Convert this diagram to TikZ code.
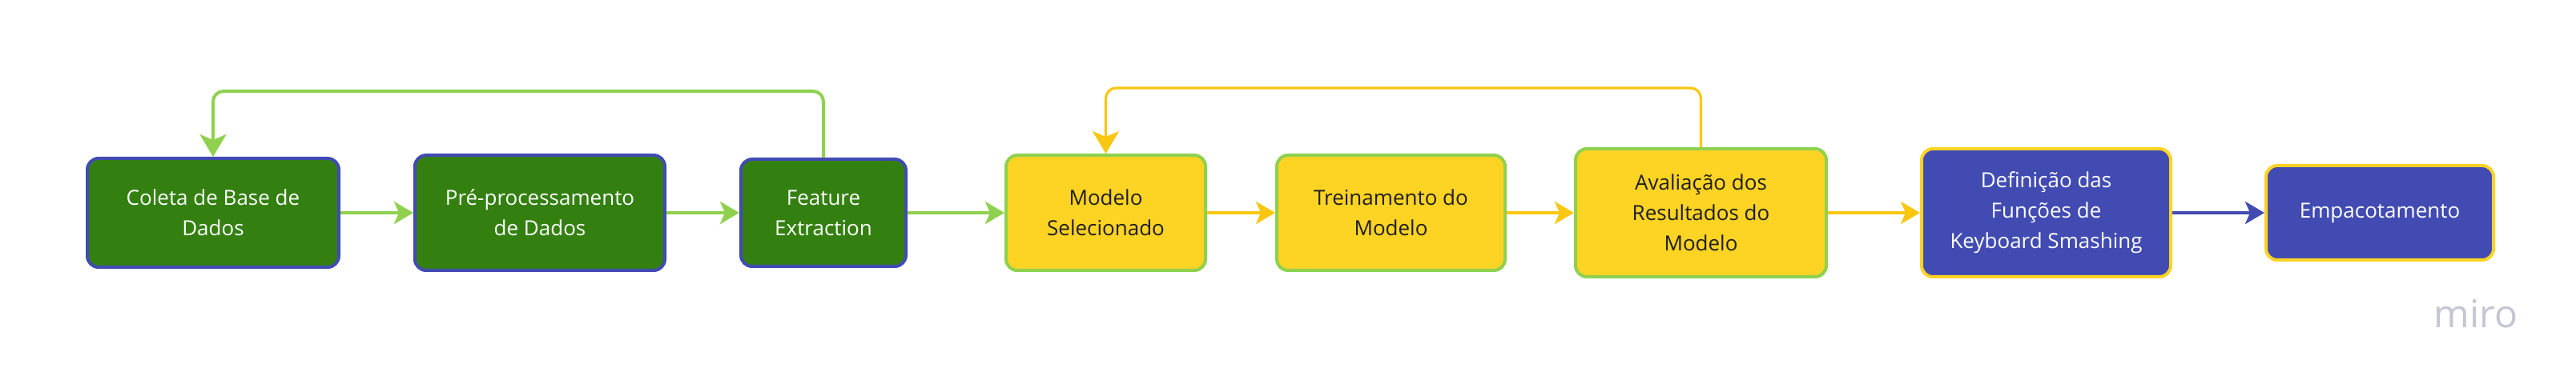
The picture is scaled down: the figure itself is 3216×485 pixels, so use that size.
\documentclass[tikz,border=0pt]{standalone}
\usepackage{fontspec}
\setmainfont{Open Sans}
\usetikzlibrary{arrows.meta}
\definecolor{dgreen}{HTML}{338010}
\definecolor{lgreen}{HTML}{8FD14F}
\definecolor{myyellow}{HTML}{FDD324}
\definecolor{arryellow}{HTML}{FAC710}
\definecolor{myblue}{HTML}{414BB2}
\definecolor{mirogray}{HTML}{C5C5D3}
\definecolor{darktext}{HTML}{1E1E1E}
\begin{document}
\begin{tikzpicture}[x=0.5pt,y=-0.5pt,
  box/.style={rounded corners=7pt, line width=2pt, align=center, inner sep=0pt,
    font=\fontsize{13pt}{19pt}\selectfont},
  gbox/.style={box, fill=dgreen, draw=myblue, text=white},
  ybox/.style={box, fill=myyellow, draw=lgreen, text=darktext},
  bbox/.style={box, fill=myblue, draw=myyellow, text=white},
  conn/.style={line width=2pt, -{Stealth[length=12pt,width=14pt,inset=3pt]}},
  loopg/.style={line width=2pt, rounded corners=6.5pt, draw=lgreen,
    -{Stealth[length=14pt,width=16.5pt,inset=3.5pt]}},
  loopy/.style={line width=1.6pt, rounded corners=6.5pt, draw=arryellow,
    -{Stealth[length=14pt,width=16.5pt,inset=3.5pt]}},
  logo/.style={font=\fontsize{24pt}{24pt}\selectfont, text=mirogray, inner sep=0pt}
]
\useasboundingbox (0,0) rectangle (3216,485);
\fill[white] (0,0) rectangle (3216,485);

\node[gbox, minimum width=157pt, minimum height=68pt] (coleta) at (266,266) {Coleta de Base de\\Dados};
\node[gbox, minimum width=156pt, minimum height=72pt] (pre) at (674,266) {Pré-processamento\\de Dados};
\node[gbox, minimum width=103pt, minimum height=67pt] (feat) at (1028,266) {Feature\\Extraction};
\node[ybox, minimum width=124.5pt, minimum height=72pt] (modelo) at (1380.5,266) {Modelo\\Selecionado};
\node[ybox, minimum width=142.5pt, minimum height=72pt] (trein) at (1736.5,266) {Treinamento do\\Modelo};
\node[ybox, minimum width=156.5pt, minimum height=80pt] (aval) at (2123.5,266) {Avaliação dos\\Resultados do\\Modelo};
\node[bbox, minimum width=155.5pt, minimum height=80pt] (defin) at (2554.5,266) {Definição das\\Funções de\\Keyboard Smashing};
\node[bbox, minimum width=142pt, minimum height=59pt] (empac) at (2971,266) {Empacotamento};

\draw[conn, draw=lgreen, fill=lgreen] (coleta.east) -- (pre.west);
\draw[conn, draw=lgreen, fill=lgreen] (pre.east) -- (feat.west);
\draw[conn, draw=lgreen, fill=lgreen] (feat.east) -- (modelo.west);
\draw[conn, draw=arryellow, fill=arryellow] (modelo.east) -- (trein.west);
\draw[conn, draw=arryellow, fill=arryellow] (trein.east) -- (aval.west);
\draw[conn, draw=arryellow, fill=arryellow] (aval.east) -- (defin.west);
\draw[conn, draw=myblue, fill=myblue] (defin.east) -- (empac.west);

\coordinate (gtop) at (0,114);
\coordinate (ytop) at (0,110);
\draw[loopg, fill=none] (feat.north) -- (feat.north |- gtop) -| (coleta.north);
\draw[loopy, fill=none] (aval.north) -- (aval.north |- ytop) -| (modelo.north);

\node[logo, anchor=base] (miro) at (3091,410) {miro};
\end{tikzpicture}
\end{document}
